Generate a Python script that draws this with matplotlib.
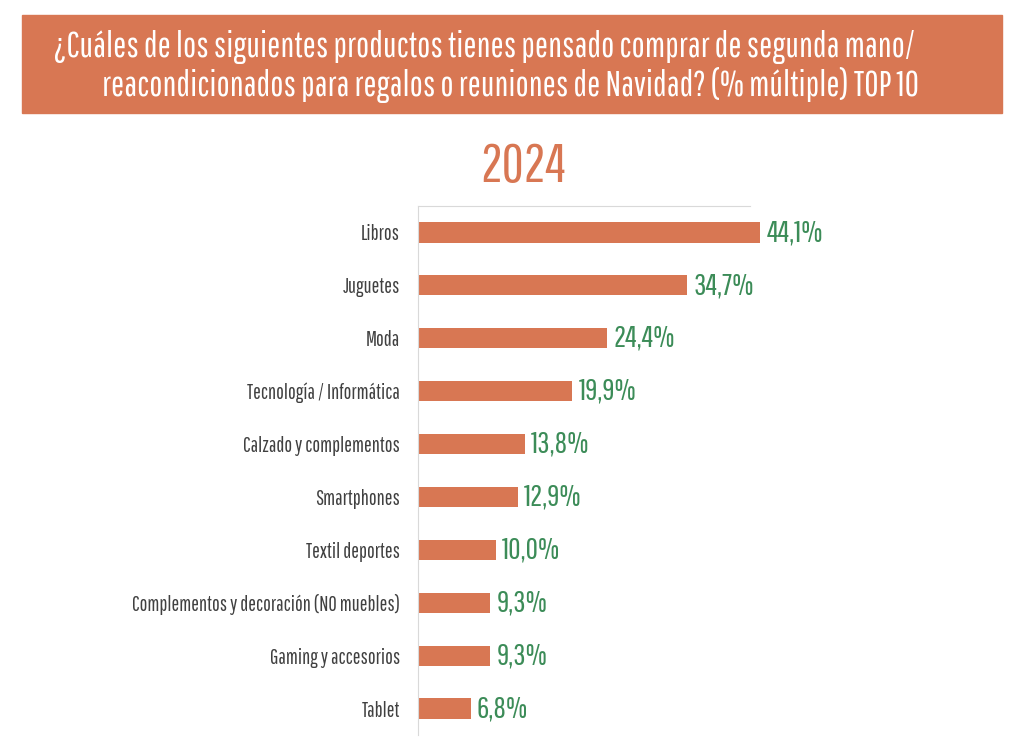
import matplotlib
matplotlib.use("Agg")
import matplotlib.pyplot as plt
from matplotlib.patches import Rectangle

categories = [
    "Libros",
    "Juguetes",
    "Moda",
    "Tecnología / Informática",
    "Calzado y complementos",
    "Smartphones",
    "Textil deportes",
    "Complementos y decoración (NO muebles)",
    "Gaming y accesorios",
    "Tablet",
]
values = [44.1, 34.7, 24.4, 19.9, 13.8, 12.9, 10.0, 9.3, 9.3, 6.8]
value_labels = ["44,1%", "34,7%", "24,4%", "19,9%", "13,8%", "12,9%", "10,0%", "9,3%", "9,3%", "6,8%"]

title_lines = ["¿Cuáles de los siguientes productos tienes pensado comprar de segunda mano/",
               "reacondicionados para regalos o reuniones de Navidad? (% múltiple) TOP 10"]
year = "2024"

ORANGE = "#D87753"
GREEN = "#3C8C58"
FONT = ["Pathway Gothic One", "Roboto Condensed", "DejaVu Sans"]

plt.rcParams["font.family"] = FONT

fig = plt.figure(figsize=(10.24, 7.56), dpi=100)

# title banner
fig.patches.append(Rectangle((22 / 1024, 1 - 113 / 756), 980 / 1024, 98 / 756,
                             transform=fig.transFigure, color=ORANGE, zorder=0))
for (cx, cy), line in zip([(485, 47), (510, 85)], title_lines):
    fig.text(cx / 1024, 1 - cy / 756, line, ha="center", va="center", color="white",
             fontsize=25, fontweight="bold")
fig.text(523 / 1024, 1 - 167 / 756, year, ha="center", va="center", color=ORANGE,
         fontsize=39)

ax = fig.add_axes([418 / 1024, 21 / 756, 582 / 1024, 529 / 756])
y = range(len(categories))
ax.barh(y, values, height=0.38, color=ORANGE)
for yi, v, lab in zip(y, values, value_labels):
    ax.text(v + 0.8, yi, lab, va="center", ha="left", color=GREEN, fontsize=22)

ax.set_yticks(list(y))
ax.set_yticklabels(categories, color="#404040", fontsize=14.8)
ax.tick_params(axis="y", length=0, pad=13)
ax.set_ylim(len(categories) - 0.5, -0.5)
ax.set_xlim(0, 75)
ax.set_xticks([])
for s in ("right", "bottom"):
    ax.spines[s].set_visible(False)
ax.spines["left"].set_color("#d9d9d9")
ax.spines["top"].set_color("#d9d9d9")
ax.spines["top"].set_bounds(0, 42.8)

fig.savefig("out.png", dpi=100)
